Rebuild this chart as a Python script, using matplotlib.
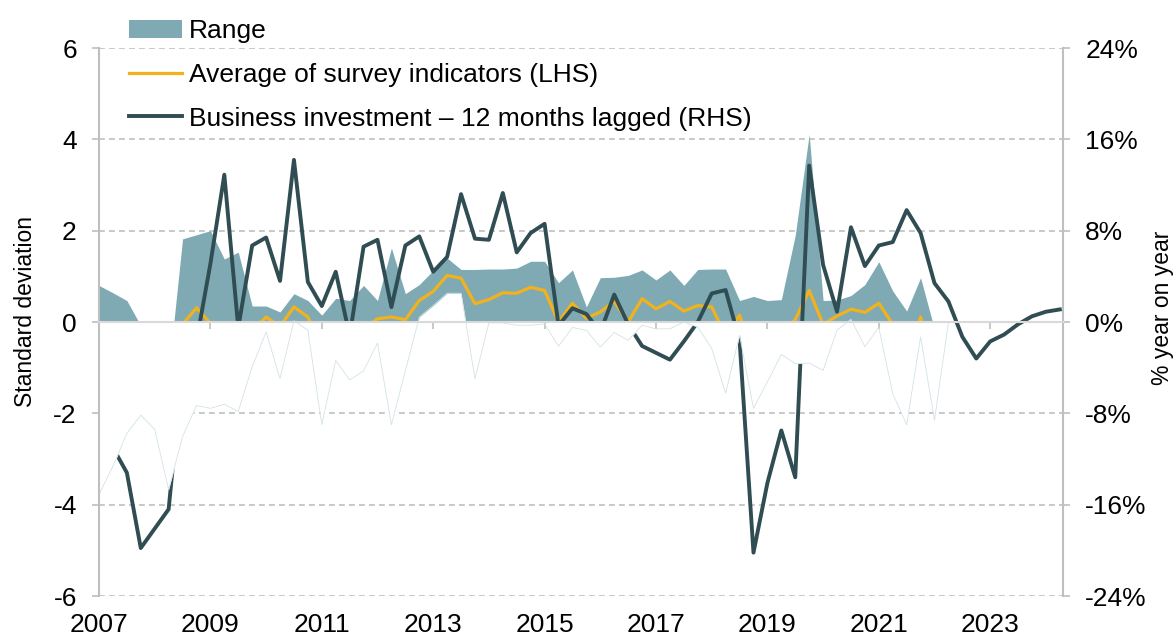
import numpy as np
import pandas as pd
import matplotlib
matplotlib.use("Agg")
import matplotlib.pyplot as plt

plt.rcParams['font.family'] = ['Liberation Sans', 'DejaVu Sans']
plt.rcParams['axes.unicode_minus'] = False

# ---------------- data ----------------
quarters = pd.period_range('2007Q1', '2024Q2', freq='Q')

# Range of survey indicators (LHS, standard deviations): upper and lower bound
range_max = [0.80, 0.64, 0.47, -0.08, -0.50, -1.10, 1.82, 1.91, 2.00, 1.38,
             1.53, 0.35, 0.35, 0.22, 0.62, 0.47, 0.15, 0.52, 0.47, 0.80,
             0.47, 1.62, 0.62, 0.82, 1.13, 1.40, 1.15, 1.15, 1.16, 1.16,
             1.18, 1.33, 1.33, 0.86, 1.14, 0.33, 0.97, 0.98, 1.02, 1.14,
             0.92, 1.14, 0.80, 1.15, 1.16, 1.16, 0.47, 0.56, 0.47, 0.49,
             1.90, 4.11, 0.47, 0.48, 0.58, 0.82, 1.32, 0.68, 0.24, 0.97,
             -0.16, 0.00]
range_min = [-3.78, -3.16, -2.44, -2.04, -2.35, -3.67, -2.51, -1.83, -1.89, -1.80,
             -1.96, -0.98, -0.22, -1.24, 0.03, -0.18, -2.25, -0.84, -1.27, -1.07,
             -0.46, -2.25, -1.07, 0.11, 0.36, 0.63, 0.63, -1.24, -0.02, -0.02,
             -0.07, -0.07, -0.04, -0.53, -0.12, -0.18, -0.55, -0.23, -0.40, -0.07,
             -0.15, -0.15, 0.00, -0.11, -0.58, -1.56, -0.29, -1.89, -1.31, -0.71,
             -0.91, -0.90, -1.06, -0.18, 0.06, -0.54, -0.12, -1.57, -2.25, -0.33,
             -2.15, 0.00]
# Average of survey indicators (LHS)
survey_avg = [-1.13, -1.30, -0.90, -1.00, -1.20, -1.50, -0.05, 0.31, -0.03, -0.25,
              0.03, -0.20, 0.11, -0.10, 0.33, 0.11, -0.60, -0.20, -0.40, -0.15,
              0.07, 0.11, 0.05, 0.47, 0.67, 1.02, 0.96, 0.40, 0.49, 0.64,
              0.63, 0.76, 0.69, 0.00, 0.41, 0.08, 0.22, 0.45, 0.00, 0.51,
              0.29, 0.45, 0.24, 0.36, 0.33, -0.30, 0.15, -0.80, -0.50, -0.20,
              0.05, 0.69, -0.05, 0.13, 0.28, 0.21, 0.41, -0.05, -1.00, 0.11,
              -1.00]
# Business investment, % year on year, 12 months lagged (RHS)
business_inv = [-1.5, -11.0, -13.2, -19.8, -18.1, -16.4, -4.0, -1.7, 5.1, 12.9,
                -0.5, 6.7, 7.4, 3.6, 14.2, 3.5, 1.4, 4.4, -1.2, 6.6,
                7.2, 1.3, 6.7, 7.5, 4.4, 5.7, 11.2, 7.3, 7.2, 11.3,
                6.1, 7.8, 8.6, -0.3, 1.2, 0.7, -0.9, 2.4, -0.2, -2.1,
                -2.7, -3.3, -1.7, 0.0, 2.5, 2.8, -1.6, -20.2, -14.1, -9.5,
                -13.6, 13.7, 5.0, 0.9, 8.3, 4.9, 6.7, 7.0, 9.8, 7.8,
                3.4, 1.8, -1.3, -3.2, -1.7, -1.1, -0.2, 0.5, 0.9, 1.1]

left_ticks = [-6, -4, -2, 0, 2, 4, 6]
left_tick_labels = ['-6', '-4', '-2', '0', '2', '4', '6']
right_ticks = [-24, -16, -8, 0, 8, 16, 24]
right_tick_labels = ['-24%', '-16%', '-8%', '0%', '8%', '16%', '24%']
year_ticks = [2007, 2009, 2011, 2013, 2015, 2017, 2019, 2021, 2023]
legend_labels = ['Range', 'Average of survey indicators (LHS)',
                 'Business investment \u2013 12 months lagged (RHS)']

# --------------- helpers --------------
t = np.asarray(quarters.year + (quarters.quarter - 1) / 4.0, dtype=float)


def padded(values):
    arr = np.full(len(t), np.nan)
    arr[:len(values)] = values
    return arr


rmax = padded(range_max)
rmin = padded(range_min)
avg = padded(survey_avg)
inv = np.asarray(business_inv, dtype=float)

TEAL = '#7faab4'
GOLD = '#f2b21b'
DARK = '#2f4d53'
GRID = '#bfbfbf'
ZERO = '#d9d9d9'
TICK_FS = 19
LEG_FS = 19
LAB_FS = 16.5

# --------------- figure ---------------
fig = plt.figure(figsize=(11.76, 6.39), dpi=100)
ax = fig.add_axes([99 / 1176, 43 / 639, 964 / 1176, 548 / 639])
ax2 = ax.twinx()

ax.set_xlim(2007.0, 2007.0 + 964 / 55.7)
ax.set_ylim(-6, 6)
ax2.set_ylim(-24, 24)

teal = ax.fill_between(t, 0, rmax, color=TEAL, lw=0, zorder=1)
yl, = ax.plot(t, avg, color=GOLD, lw=2.3, zorder=2)

dl, = ax2.plot(t, inv, color=DARK, lw=2.8, zorder=1.2)
ax2.fill_between(t, 0, rmin, transform=ax.transData, color='white', lw=0, zorder=1.5)
ax2.plot(t, rmin, transform=ax.transData, color='#d3e2e5', lw=0.6, zorder=1.6)
ax2.set_ylim(-24, 24)

# grid
ax.set_yticks(left_ticks)
ax.set_yticklabels(left_tick_labels)
ax.grid(axis='y', color=GRID, linestyle=(0, (3.5, 2.5)), lw=1.2)
ax.set_axisbelow(True)

ax2.set_yticks(right_ticks)
ax2.set_yticklabels(right_tick_labels)

ax.set_xticks(year_ticks)
ax.set_xticklabels([str(y) for y in year_ticks])

# spines
for s in ax.spines.values():
    s.set_visible(False)
ax2.spines['top'].set_visible(False)
for side in ('left', 'right'):
    ax2.spines[side].set_color(GRID)
    ax2.spines[side].set_linewidth(1.5)
ax2.spines['bottom'].set_position(('data', 0))
ax2.spines['bottom'].set_color(ZERO)
ax2.spines['bottom'].set_linewidth(1.5)

ax.tick_params(axis='y', direction='out', length=5, width=1.2, color=GRID,
               labelsize=TICK_FS, pad=11)
ax2.tick_params(axis='y', direction='out', length=5, width=1.2, color=GRID,
                labelsize=TICK_FS, pad=11)
ax.tick_params(axis='x', length=0, labelsize=TICK_FS, pad=12)
ax2.xaxis.set_visible(True)
ax2.tick_params(axis='x', bottom=True, top=False, labelbottom=False, labeltop=False,
                direction='out', length=5, width=1.2, color=GRID)

ax.set_ylabel('Standard deviation', fontsize=LAB_FS, labelpad=12)
ax2.set_ylabel('% year on year', fontsize=LAB_FS, rotation=90, labelpad=3)
ax.yaxis.label.set_y(0.52)
ax2.yaxis.label.set_y(0.525)

fig.legend(handles=[teal, yl, dl], labels=legend_labels, loc='upper left',
           bbox_to_anchor=(129 / 1176, 1 - 19 / 639), frameon=False, fontsize=LEG_FS,
           handlelength=2.0, handletextpad=0.27, labelspacing=0.75,
           borderpad=0, borderaxespad=0)

fig.savefig('out.png', dpi=100)
